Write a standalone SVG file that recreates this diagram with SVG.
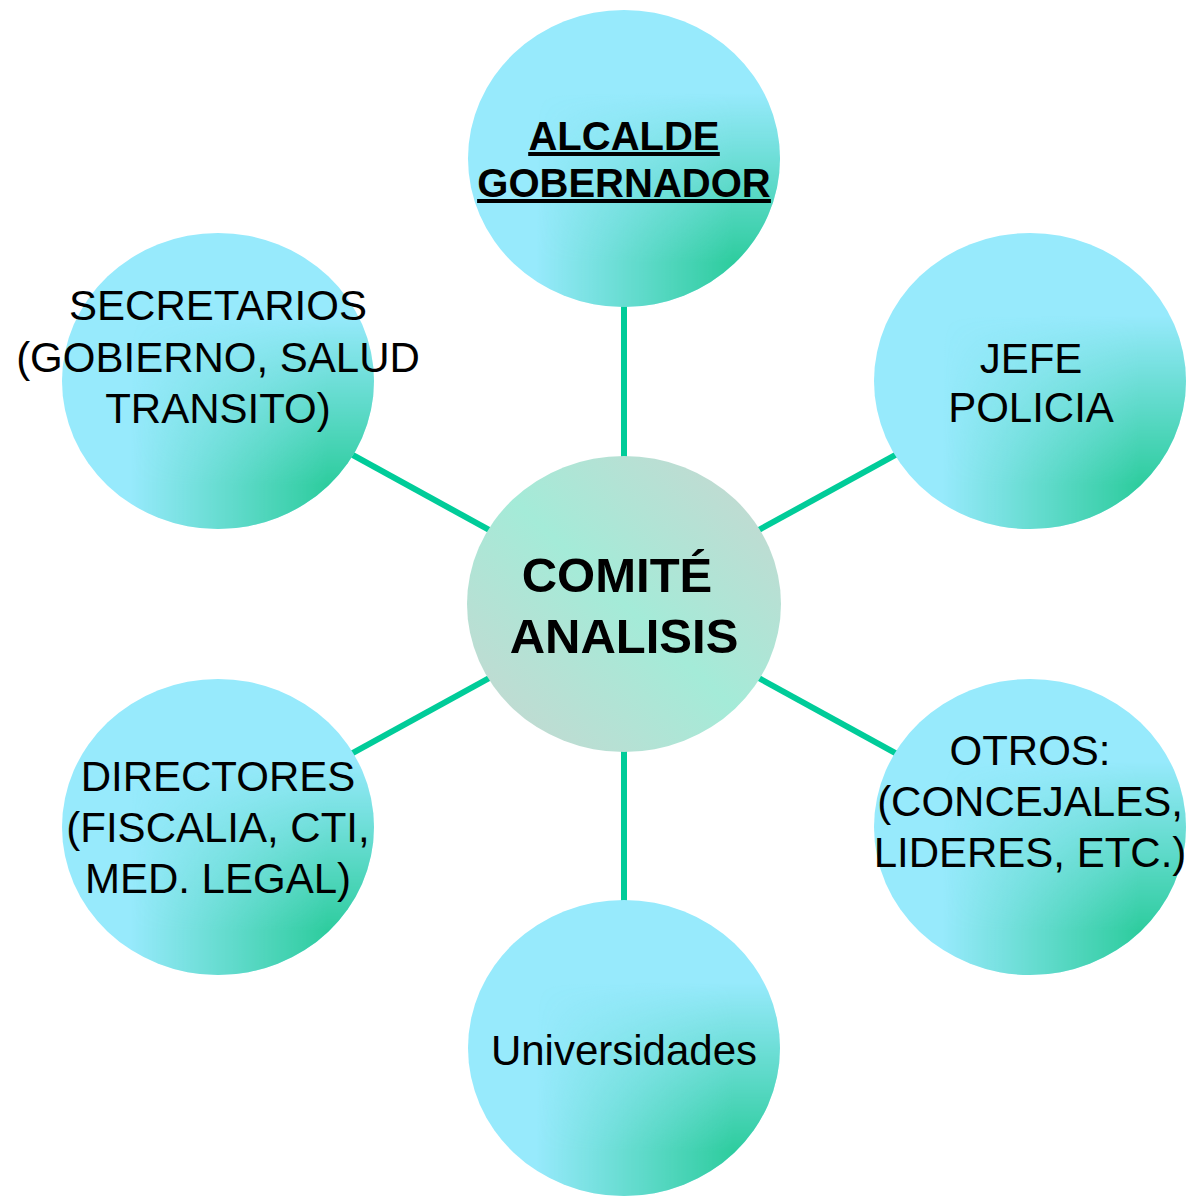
<svg xmlns="http://www.w3.org/2000/svg" width="1187" height="1198" viewBox="0 0 1187 1198">
<defs>
<linearGradient id="mhg" x1="0" y1="0" x2="1" y2="0">
<stop offset="0.22" stop-color="#000"/>
<stop offset="0.85" stop-color="#fff"/>
</linearGradient>
<linearGradient id="mvg" x1="0" y1="0" x2="0" y2="1">
<stop offset="0.28" stop-color="#000"/>
<stop offset="0.85" stop-color="#fff"/>
</linearGradient>
<mask id="mh" maskContentUnits="objectBoundingBox"><rect x="0" y="0" width="1" height="1" fill="url(#mhg)"/></mask>
<mask id="mv" maskContentUnits="objectBoundingBox"><rect x="0" y="0" width="1" height="1" fill="url(#mvg)"/></mask>
<linearGradient id="cg" x1="1" y1="0" x2="0" y2="1">
<stop offset="0" stop-color="#C9D6D0"/>
<stop offset="0.5" stop-color="#A4EBD8"/>
<stop offset="1" stop-color="#C9D6D0"/>
</linearGradient>
</defs>
<style>
.base{fill:#97EAFC}
.shade{fill:#2ECC9E}
.t{font-family:"Liberation Sans",Arial,sans-serif;font-size:42px;fill:#000;text-anchor:middle}
.b{font-weight:bold}
.conn{stroke:#00CC99;stroke-width:6;fill:none}
</style>
<rect width="1187" height="1198" fill="#fff"/>
<g id="connectors">
<line class="conn" x1="624" y1="604" x2="624" y2="158"/>
<line class="conn" x1="624" y1="604" x2="1030" y2="381"/>
<line class="conn" x1="624" y1="604" x2="1030" y2="827"/>
<line class="conn" x1="624" y1="604" x2="624" y2="1048"/>
<line class="conn" x1="624" y1="604" x2="218" y2="827"/>
<line class="conn" x1="624" y1="604" x2="218" y2="381"/>
</g>
<g id="node-alcalde">
<ellipse class="base" cx="624" cy="158.5" rx="156" ry="148.5"/>
<g mask="url(#mv)"><ellipse class="shade" cx="624" cy="158.5" rx="156" ry="148.5" mask="url(#mh)"/></g>
<text class="t b" font-size="40" style="font-size:40px" text-decoration="underline"><tspan x="624" y="150" text-decoration="underline">ALCALDE</tspan><tspan x="624" y="197" text-decoration="underline">GOBERNADOR</tspan></text>
</g>
<g id="node-jefe">
<ellipse class="base" cx="1030" cy="381" rx="156" ry="148"/>
<g mask="url(#mv)"><ellipse class="shade" cx="1030" cy="381" rx="156" ry="148" mask="url(#mh)"/></g>
<text class="t"><tspan x="1031" y="373">JEFE</tspan><tspan x="1031" y="422">POLICIA</tspan></text>
</g>
<g id="node-otros">
<ellipse class="base" cx="1030" cy="827" rx="156" ry="148"/>
<g mask="url(#mv)"><ellipse class="shade" cx="1030" cy="827" rx="156" ry="148" mask="url(#mh)"/></g>
<text class="t"><tspan x="1030" y="765">OTROS:</tspan><tspan x="1030" y="816">(CONCEJALES,</tspan><tspan x="1030" y="867">LIDERES, ETC.)</tspan></text>
</g>
<g id="node-universidades">
<ellipse class="base" cx="624" cy="1048" rx="156" ry="148"/>
<g mask="url(#mv)"><ellipse class="shade" cx="624" cy="1048" rx="156" ry="148" mask="url(#mh)"/></g>
<text class="t" x="624" y="1065">Universidades</text>
</g>
<g id="node-directores">
<ellipse class="base" cx="218" cy="827" rx="156" ry="148"/>
<g mask="url(#mv)"><ellipse class="shade" cx="218" cy="827" rx="156" ry="148" mask="url(#mh)"/></g>
<text class="t"><tspan x="218" y="791">DIRECTORES</tspan><tspan x="218" y="842">(FISCALIA, CTI,</tspan><tspan x="218" y="893">MED. LEGAL)</tspan></text>
</g>
<g id="node-secretarios">
<ellipse class="base" cx="218" cy="381" rx="156" ry="148"/>
<g mask="url(#mv)"><ellipse class="shade" cx="218" cy="381" rx="156" ry="148" mask="url(#mh)"/></g>
<text class="t"><tspan x="218" y="320">SECRETARIOS</tspan><tspan x="218" y="372">(GOBIERNO, SALUD</tspan><tspan x="218" y="423">TRANSITO)</tspan></text>
</g>
<g id="node-comite">
<ellipse cx="624" cy="604" rx="157" ry="148" fill="url(#cg)"/>
<text class="t b" style="font-size:49px"><tspan x="617" y="592">COMITÉ</tspan><tspan x="624" y="653">ANALISIS</tspan></text>
</g>
</svg>
